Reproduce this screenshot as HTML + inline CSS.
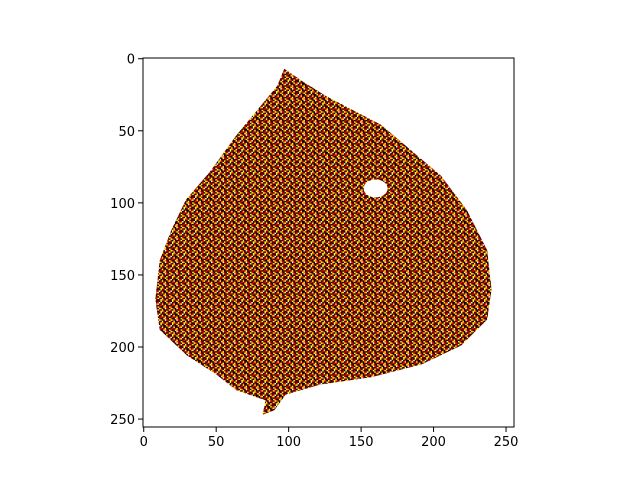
<!DOCTYPE html>
<html><head><meta charset="utf-8"><style>
body{margin:0;background:#fff}
svg text{font-family:"DejaVu Sans","Liberation Sans",sans-serif;font-size:13px;fill:#000}
</style></head><body>
<svg id="chart" width="640" height="480" viewBox="0 0 640 480">
<defs>
<pattern id="tex" patternUnits="userSpaceOnUse" width="11.56" height="11.56"></pattern>
</defs>
<g id="plot"></g>
<g id="axes"></g>
</svg>
<script>
const xTicks=[0,50,100,150,200,250];
const yTicks=[0,50,100,150,200,250];
const leafX=[97,110,126,145,164,185,205,223,237,240,237,219,192,157,122,98,90,82,84,64,50,30,11,8,11,19,29,46,64,78,92];
const leafY=[7,16,26,36,46,64,81,105,133,160,181,199,212,221,226,233,244,247,237,230,219,206,188,167,140,119,98,78,53,36,19];
const holeX=[160];const holeY=[90];
const L=143,T=58,W=371,H=369,N=256;
const sx=v=>L+(v+0.5)*W/N, sy=v=>T+(v+0.5)*H/N;
const NS="http://www.w3.org/2000/svg";
// texture tile (8x8 cells): k black, d dark red, r red, o orange, y yellow, w white
const tile=["kdyrkdky","rkkydrwk","ykdkoykd","dryk kdr","kyodkyrk","dkwrdkyo","ykdkrydk","orkydkdy"];
const colors={k:"#000",d:"#9a0000",r:"#e01000",o:"#ff8000",y:"#ffff30",w:"#fff"," ":"#b00000"};
const pat=document.getElementById('tex');const c=11.56/8;
tile.forEach((row,j)=>[...row].forEach((ch,i)=>{const r=document.createElementNS(NS,'rect');
r.setAttribute('x',i*c);r.setAttribute('y',j*c);r.setAttribute('width',c+0.05);r.setAttribute('height',c+0.05);r.setAttribute('fill',colors[ch]);pat.appendChild(r);}));
const plot=document.getElementById('plot'),axes=document.getElementById('axes');
let d=leafX.map((x,i)=>(i?'L':'M')+sx(x)+','+sy(leafY[i])).join('')+'Z';
const leaf=document.createElementNS(NS,'path');
leaf.setAttribute('d',d);leaf.setAttribute('fill','url(#tex)');


plot.appendChild(leaf);
holeX.forEach((x,i)=>{const e=document.createElementNS(NS,'ellipse');
e.setAttribute('cx',sx(x));e.setAttribute('cy',sy(holeY[i]));e.setAttribute('rx',12);e.setAttribute('ry',9);e.setAttribute('fill','#fff');


plot.appendChild(e);});
const frame=document.createElementNS(NS,'rect');
frame.setAttribute('x',L);frame.setAttribute('y',T);frame.setAttribute('width',W);frame.setAttribute('height',H);
frame.setAttribute('fill','none');frame.setAttribute('stroke','#000');frame.setAttribute('stroke-width','1');


axes.appendChild(frame);
xTicks.forEach(t=>{const x=sx(t);
const l=document.createElementNS(NS,'line');l.setAttribute('x1',x);l.setAttribute('x2',x);l.setAttribute('y1',T+H);l.setAttribute('y2',T+H+5);l.setAttribute('stroke','#000');


axes.appendChild(l);
const s=document.createElementNS(NS,'text');s.setAttribute('x',x);s.setAttribute('y',T+H+19);s.setAttribute('text-anchor','middle');s.textContent=t;


axes.appendChild(s);});
yTicks.forEach(t=>{const y=sy(t);
const l=document.createElementNS(NS,'line');l.setAttribute('x1',L-5);l.setAttribute('x2',L);l.setAttribute('y1',y);l.setAttribute('y2',y);l.setAttribute('stroke','#000');


axes.appendChild(l);
const s=document.createElementNS(NS,'text');s.setAttribute('x',L-8);s.setAttribute('y',y+5);s.setAttribute('text-anchor','end');s.textContent=t;


axes.appendChild(s);});
</script>
</body></html>
